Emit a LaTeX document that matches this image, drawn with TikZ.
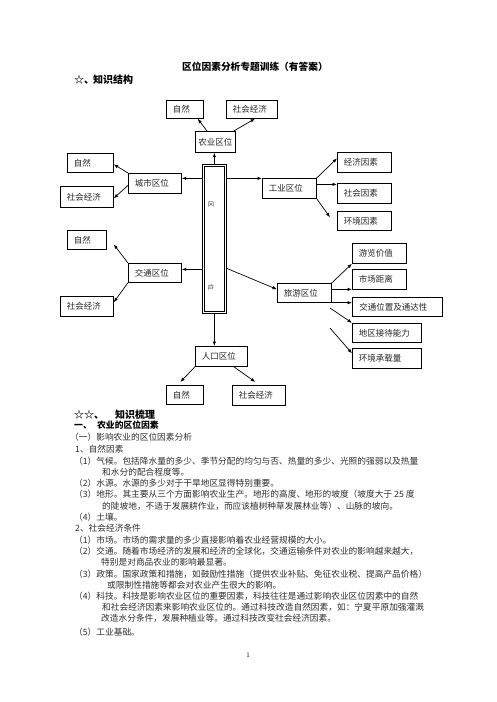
\documentclass[tikz,border=0pt]{standalone}
\usepackage{fontspec}
\newfontfamily\cjk{Noto Sans CJK SC}
\usetikzlibrary{arrows.meta}
\begin{document}
\begin{tikzpicture}[x=1pt,y=-1pt,
 box/.style={draw, line width=0.7pt, inner xsep=6.5pt, inner ysep=0pt, align=left, anchor=north west, font=\cjk\fontsize{8.5}{10}\selectfont, text=black!85},
 arr/.style={-{Latex[length=4.5pt,width=3.4pt]}, line width=0.7pt},
 body/.style={anchor=base west, inner sep=0pt, font=\cjk\fontsize{8.7}{10}\selectfont, text=black!82},
 head/.style={anchor=base west, inner sep=0pt, font=\cjk\bfseries\fontsize{10}{12}\selectfont},
 subhead/.style={anchor=base west, inner sep=0pt, font=\cjk\bfseries\fontsize{8.8}{10}\selectfont},
 vtext/.style={rotate=-90, inner sep=0pt, font=\cjk\fontsize{6}{6}\selectfont, text=black!80},
]
\fill[white] (0,0) rectangle (496,702);
\useasboundingbox (0,0) rectangle (496,702);

% headings
\node[anchor=base west, inner sep=0pt, font=\cjk\bfseries\fontsize{9.7}{12}\selectfont] (title) at (182,70.7) {区位因素分析专题训练（有答案）};
\node[head] (h1) at (74,83.8) {\makebox[19pt][l]{☆、}知识结构};

% diagram boxes
\node[box,text width=24pt,minimum height=18pt] (nz1) at (166,100) {自然};
\node[box,text width=38pt,minimum height=18pt] (ns1) at (226,100) {社会经济};
\node[box,text width=34pt,inner xsep=3pt,minimum height=21pt] (agr) at (195,131) {农业区位};
\node[draw, line width=0.7pt, minimum width=24pt, minimum height=149pt, inner sep=0pt, anchor=north west] (qw) at (202,164) {};
\draw[line width=0.6pt] ([shift={(2.6pt,-2.6pt)}]qw.north west) rectangle ([shift={(-2.6pt,2.6pt)}]qw.south east);
\node[vtext] (qt1) at (211,204) {区};
\node[vtext] (qt2) at (211,287) {位};

\node[box,text width=40pt,minimum height=20pt] (city) at (128,173) {城市区位};
\node[box,text width=33pt,minimum height=19pt] (cz) at (67,153) {自然};
\node[box,text width=40pt,minimum height=21pt] (cs) at (60,186) {社会经济};

\node[box,text width=41pt,minimum height=20pt] (ind) at (262,178) {工业区位};
\node[box,text width=41pt,minimum height=20pt] (i1) at (337,152) {经济因素};
\node[box,text width=41pt,minimum height=20pt] (i2) at (337,183) {社会因素};
\node[box,text width=41pt,minimum height=19pt] (i3) at (337,211) {环境因素};

\node[box,text width=26pt,minimum height=19pt] (tz) at (67,230) {自然};
\node[box,text width=40pt,minimum height=19pt] (tra) at (128,263) {交通区位};
\node[box,text width=40pt,minimum height=20pt] (ts) at (60,296) {社会经济};

\node[box,text width=39pt,minimum height=20pt] (pop) at (195,346) {人口区位};
\node[box,text width=24pt,minimum height=19pt] (pz) at (166,385) {自然};
\node[box,text width=40pt,minimum height=20pt] (ps) at (232,385) {社会经济};

\node[box,text width=41pt,minimum height=19pt] (tour) at (277,283) {旅游区位};
\node[box,text width=41pt,minimum height=20pt] (u1) at (352,243) {游览价值};
\node[box,text width=41pt,minimum height=20pt] (u2) at (352,269) {市场距离};
\node[box,text width=76pt,minimum height=19pt,inner xsep=7pt] (u3) at (352,297) {交通位置及通达性};
\node[box,text width=56pt,minimum height=19pt] (u4) at (352,323) {地区接待能力};
\node[box,text width=56pt,minimum height=20pt] (u5) at (352,348) {环境承载量};

% connectors
\draw[arr] (qw.north) -- (qw.north |- agr.south);
\draw[arr] ([xshift=12pt]agr.north west) -- ([xshift=-6pt]nz1.south east);
\draw[arr] ([xshift=-2pt]agr.north east) -- ([xshift=29pt]ns1.south west);

\coordinate (qa) at ([yshift=60.5pt]qw.west);
\draw[arr] (qa) -- (qa -| city.east);
\coordinate (qb) at ([yshift=60.5pt]qw.east);
\draw[arr] (qb) -- (qb -| ind.west);
\draw[arr] (city.north west) -- ([yshift=-1.5pt]cz.east);
\draw[arr] ([yshift=-2pt]city.west) -- ([yshift=-1.5pt]cs.east);

\draw[arr] (ind.north east) -- ([yshift=4pt]i1.west);
\coordinate (ib) at ([yshift=4pt]ind.east);
\draw[arr] (ib) -- (ib -| i2.west);
\draw[arr] (ind.south east) -- ([xshift=-7pt,yshift=3.5pt]i3.west);

\coordinate (qc) at ([yshift=-30.5pt]qw.west);
\draw[arr] (qc) -- (qc -| tra.east);
\draw[arr] (tra.north west) -- ([xshift=7pt,yshift=-4.5pt]tz.east);
\draw[arr] (tra.south west) -- ([yshift=4pt]ts.east);

\draw[arr] ([yshift=-29.5pt]qw.east) -- ([yshift=3.5pt]tour.west);

\draw[arr] (qw.south) -- (qw.south |- pop.north);
\draw[arr] (pop.south west) -- ([xshift=-4.5pt,yshift=3pt]pz.north);
\draw[arr] ([xshift=-14pt]pop.south east) -- ([xshift=-3.5pt,yshift=3pt]ps.north);

\draw[arr] (tour.north east) -- (u1.south west);
\coordinate (tb) at ([yshift=3.5pt]tour.east);
\draw[arr] (tb) -- (tb -| u2.west);
\draw[arr] (tour.south east) -- (tour.south east -| u3.west);
\coordinate (f4) at (330,308);
\draw[arr] (f4) -- ([yshift=10pt]u4.west);
\coordinate (f5) at (330,328);
\draw[arr] (f5) -- ([yshift=5pt]u5.west);

% text section
\node[head] (h2) at (74,418.8) {\makebox[41pt][l]{☆☆、}知识梳理};
\node[subhead] (h3) at (74,428.4) {\makebox[23pt][l]{一、}农业的区位因素};
\node[body] (l3) at (70,440.3) {（一）影响农业的区位因素分析};
\node[body] (l4) at (75,452.3) {1、自然因素};
\node[body] (l5) at (74,464.3) {（1）气候。包括降水量的多少、季节分配的均匀与否、热量的多少、光照的强弱以及热量};
\node[body] (l6) at (102,475.3) {和水分的配合程度等。};
\node[body] (l7) at (74,486.3) {（2）水源。水源的多少对于干旱地区显得特别重要。};
\node[body] (l8) at (74,497.3) {（3）地形。其主要从三个方面影响农业生产。地形的高度、地形的坡度（坡度大于 25 度};
\node[body] (l9) at (102,509.3) {的陡坡地，不适于发展耕作业，而应该植树种草发展林业等）、山脉的坡向。};
\node[body] (l10) at (74,520.3) {（4）土壤。};
\node[body] (l11) at (75,531.3) {2、社会经济条件};
\node[body] (l12) at (74,543.3) {（1）市场。市场的需求量的多少直接影响着农业经营规模的大小。};
\node[body] (l13) at (74,554.3) {（2）交通。随着市场经济的发展和经济的全球化，交通运输条件对农业的影响越来越大，};
\node[body] (l14) at (101,565.3) {特别是对商品农业的影响最显著。};
\node[body] (l15) at (74,577.3) {（3）政策。国家政策和措施，如鼓励性措施（提供农业补贴、免征农业税、提高产品价格）};
\node[body] (l16) at (107,588.3) {或限制性措施等都会对农业产生很大的影响。};
\node[body] (l17) at (74,599.3) {（4）科技。科技是影响农业区位的重要因素，科技往往是通过影响农业区位因素中的自然};
\node[body] (l18) at (102,610.3) {和社会经济因素来影响农业区位的。通过科技改造自然因素，如：宁夏平原加强灌溉};
\node[body] (l19) at (101,621.3) {改造水分条件，发展种植业等。通过科技改变社会经济因素。};
\node[body] (l20) at (74,635.3) {（5）工业基础。};
\node[inner sep=0pt, font=\fontsize{7}{8}\selectfont] (pg) at (248,655) {1};
\end{tikzpicture}
\end{document}
